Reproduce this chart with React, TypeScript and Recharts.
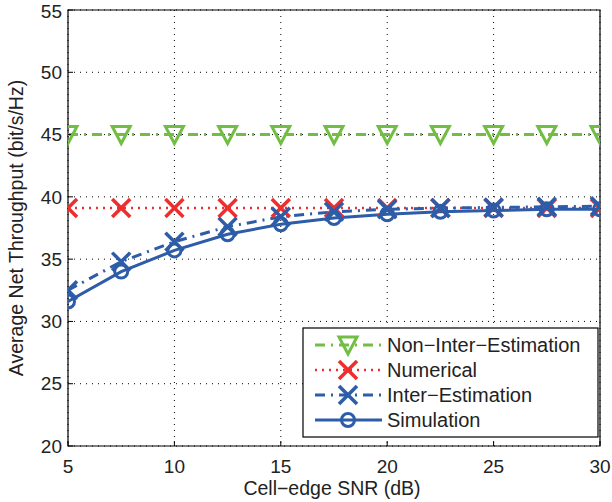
import React from "react";
import {
  LineChart,
  Line,
  XAxis,
  YAxis,
  CartesianGrid,
  ReferenceArea,
} from "recharts";

const snr = [5, 7.5, 10, 12.5, 15, 17.5, 20, 22.5, 25, 27.5, 30];
const nonInterEstimation = [45, 45, 45, 45, 45, 45, 45, 45, 45, 45, 45];
const numerical = [39.1, 39.1, 39.1, 39.1, 39.1, 39.1, 39.1, 39.1, 39.1, 39.1, 39.1];
const interEstimation = [32.5, 34.8, 36.4, 37.6, 38.4, 38.8, 39.0, 39.1, 39.15, 39.2, 39.25];
const simulation = [31.6, 34.0, 35.7, 37.0, 37.8, 38.3, 38.6, 38.8, 38.9, 39.0, 39.0];

const xTicks = [5, 10, 15, 20, 25, 30];
const yTicks = [20, 25, 30, 35, 40, 45, 50, 55];

const seriesNames = ["Non\u2212Inter\u2212Estimation", "Numerical", "Inter\u2212Estimation", "Simulation"];
const xTitle = "Cell\u2212edge SNR (dB)";
const yTitle = "Average Net Throughput (bit/s/Hz)";

const GREEN = "#72BE44";
const RED = "#EE2E2E";
const BLUE = "#2D5CA8";
const FONT = "'Liberation Sans', Arial, Helvetica, sans-serif";

const data = snr.map((x, i) => ({
  x,
  nonInter: nonInterEstimation[i],
  numerical: numerical[i],
  inter: interEstimation[i],
  sim: simulation[i],
}));

const Tri = ({ cx, cy, color }: any) => (
  <polygon
    points={`${cx - 9},${cy - 8} ${cx + 9},${cy - 8} ${cx},${cy + 9}`}
    fill="none"
    stroke={color}
    strokeWidth={3}
    strokeLinejoin="miter"
  />
);
const Cross = ({ cx, cy, color }: any) => (
  <g stroke={color} strokeWidth={3.5}>
    <line x1={cx - 9} y1={cy - 9} x2={cx + 9} y2={cy + 9} />
    <line x1={cx - 9} y1={cy + 9} x2={cx + 9} y2={cy - 9} />
  </g>
);
const Circ = ({ cx, cy, color }: any) => (
  <circle cx={cx} cy={cy} r={6.5} fill="none" stroke={color} strokeWidth={3} />
);

const dotFn = (Comp: any, color: string) => (props: any) => {
  const { cx, cy, index } = props;
  if (cx == null || cy == null) return <g key={index} />;
  return <Comp key={index} cx={cx} cy={cy} color={color} />;
};

const legendRows = [
  { name: seriesNames[0], color: GREEN, dash: "10 6 2 6", marker: Tri },
  { name: seriesNames[1], color: RED, dash: "2 5", marker: Cross },
  { name: seriesNames[2], color: BLUE, dash: "10 6 2 6", marker: Cross },
  { name: seriesNames[3], color: BLUE, dash: undefined, marker: Circ },
];

export default function App() {
  return (
    <div style={{ position: "absolute", left: 0, top: 0, width: 612, height: 502, background: "#fff" }}>
      <LineChart
        width={612}
        height={502}
        data={data}
        margin={{ top: 10, right: 12, left: 8, bottom: 20 }}
      >
        <CartesianGrid
          stroke="#000"
          strokeDasharray="1 5"
          strokeWidth={1}
          horizontalValues={yTicks}
          verticalValues={xTicks}
        />
        <XAxis
          dataKey="x"
          type="number"
          domain={[5, 30]}
          ticks={xTicks}
          height={36}
          stroke="#000"
          tickSize={-5}
          tickMargin={19}
          tick={{ fill: "#222", fontSize: 19, fontFamily: FONT }}
          axisLine={false}
          allowDataOverflow
        />
        <YAxis
          type="number"
          domain={[20, 55]}
          ticks={yTicks}
          width={60}
          stroke="#000"
          tickSize={-5}
          tickMargin={11}
          tick={{ fill: "#222", fontSize: 19, fontFamily: FONT }}
          axisLine={false}
          allowDataOverflow
        />
        <XAxis
          xAxisId="top"
          orientation="top"
          dataKey="x"
          type="number"
          domain={[5, 30]}
          ticks={xTicks}
          height={0}
          stroke="#000"
          tickSize={-5}
          tick={{ fill: "none", fontSize: 1 }}
          axisLine={false}
        />
        <YAxis
          yAxisId="right"
          orientation="right"
          type="number"
          domain={[20, 55]}
          ticks={yTicks}
          width={0}
          stroke="#000"
          tickSize={-5}
          tick={{ fill: "none", fontSize: 1 }}
          axisLine={false}
        />
        <ReferenceArea
          x1={5}
          x2={30}
          y1={20}
          y2={55}
          fill="none"
          fillOpacity={0}
          stroke="#000"
          strokeWidth={1.2}
          ifOverflow="visible"
        />
        <Line
          dataKey="nonInter"
          name={seriesNames[0]}
          stroke={GREEN}
          strokeWidth={3}
          strokeDasharray="10 6 2 6"
          dot={dotFn(Tri, GREEN)}
          isAnimationActive={false}
          type="linear"
        />
        <Line
          dataKey="numerical"
          name={seriesNames[1]}
          stroke={RED}
          strokeWidth={2.5}
          strokeDasharray="2 5"
          dot={dotFn(Cross, RED)}
          isAnimationActive={false}
          type="linear"
        />
        <Line
          dataKey="inter"
          name={seriesNames[2]}
          stroke={BLUE}
          strokeWidth={3}
          strokeDasharray="10 6 2 6"
          dot={dotFn(Cross, BLUE)}
          isAnimationActive={false}
          type="linear"
        />
        <Line
          dataKey="sim"
          name={seriesNames[3]}
          stroke={BLUE}
          strokeWidth={3}
          dot={dotFn(Circ, BLUE)}
          isAnimationActive={false}
          type="linear"
        />
      </LineChart>
      <svg
        width={612}
        height={502}
        style={{ position: "absolute", left: 0, top: 0, pointerEvents: "none" }}
      >
        <text
          x={332}
          y={495}
          textAnchor="middle"
          fontSize={19.5}
          fontFamily={FONT}
          fill="#222"
        >
          {xTitle}
        </text>
        <text
          x={0}
          y={0}
          transform="translate(23,228) rotate(-90)"
          textAnchor="middle"
          fontSize={19.5}
          fontFamily={FONT}
          fill="#222"
        >
          {yTitle}
        </text>
        <rect x={303} y={328} width={295} height={109} fill="#fff" stroke="#000" strokeWidth={1.2} />
        {legendRows.map((r, i) => {
          const cy = 345 + i * 25;
          const M = r.marker;
          return (
            <g key={r.name}>
              <line
                x1={315}
                x2={382}
                y1={cy}
                y2={cy}
                stroke={r.color}
                strokeWidth={i === 1 ? 2.5 : 3}
                strokeDasharray={r.dash}
              />
              <M cx={348} cy={cy} color={r.color} />
              <text
                x={387}
                y={cy + 7}
                fontSize={20}
                fontFamily={FONT}
                fill="#222"
              >
                {r.name}
              </text>
            </g>
          );
        })}
      </svg>
    </div>
  );
}
